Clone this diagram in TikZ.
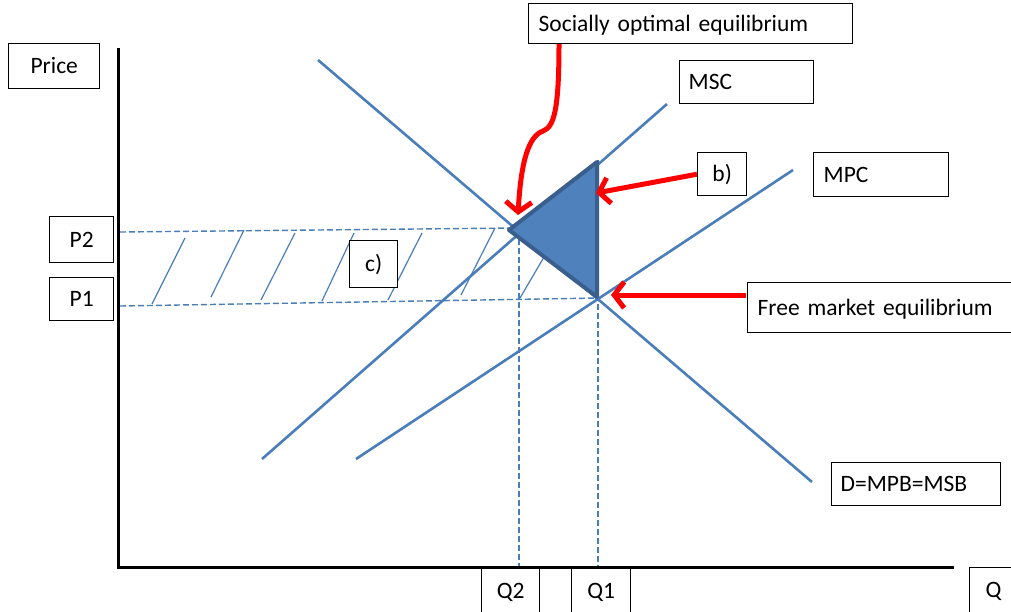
\documentclass[tikz,border=0pt]{standalone}
\usepackage{fontspec}
\setmainfont{Carlito}
\usetikzlibrary{arrows.meta}
\definecolor{lblue}{HTML}{4A7EBB}
\definecolor{tfill}{HTML}{4F81BD}
\definecolor{tedge}{HTML}{3B5F8C}
\begin{document}
\begin{tikzpicture}[x=1pt,y=-1pt,
  lab/.style={draw=black, line width=1.4pt, anchor=north west, inner ysep=0pt,
    font=\fontsize{23.5}{26}\selectfont, text height=17pt, text depth=2pt},
  curve/.style={lblue, line width=2.6pt},
  guide/.style={lblue, line width=1.4pt, dash pattern=on 6pt off 3pt},
  hatch/.style={lblue, line width=1.2pt},
  redarrow/.style={red, line width=5pt, -{Straight Barb[length=10pt,width=26pt]}},
  axis/.style={black, line width=3pt}]
\clip (0,0) rectangle (1011,611);
\fill[white] (0,0) rectangle (1011,611);

% key points
\coordinate (O) at (118,567);
\coordinate (ytop) at (118,48);
\coordinate (xend) at (954,567);
\coordinate (dA) at (318,60);
\coordinate (dB) at (812,482);
\coordinate (mscA) at (262,459);
\coordinate (mscB) at (667,104);
\coordinate (mpcA) at (356,459);
\coordinate (mpcB) at (793,170);
\coordinate (soe) at (509,230);
\coordinate (tr) at (597,162);
\coordinate (fme) at (597,297);

% guides
\draw[guide] (120,232) -- (515,228);
\draw[guide] (120,306) -- (600,298);
\draw[guide] (519,230) -- (519,567);
\draw[guide] (598,160) -- (598,567);

% hatching
\draw[hatch] (152,304) -- (185,238);
\draw[hatch] (211,297) -- (244,230);
\draw[hatch] (261,300) -- (295,233);
\draw[hatch] (322,301) -- (354,233);
\draw[hatch] (388,300) -- (422,233);
\draw[hatch] (461,295) -- (495,228);
\draw[hatch] (520,298) -- (544,257);

% curves
\draw[curve] (dA) -- (dB);
\draw[curve] (mscA) -- (mscB);
\draw[curve] (mpcA) -- (mpcB);

% triangle
\draw[fill=tfill, draw=tedge, line width=4pt, line join=round] (soe) -- (tr) -- (fme) -- cycle;

% axes
\draw[axis] (ytop) -- (O) -- (xend);

% labels
\node[lab, minimum width=91pt, minimum height=45pt, inner xsep=6pt, text width=79pt, align=center] (price) at (8,43) {Price};
\node[lab, minimum width=64pt, minimum height=46pt, inner xsep=6pt, text width=52pt, align=center] (p2) at (49,216) {P2};
\node[lab, minimum width=64pt, minimum height=43pt, inner xsep=6pt, text width=52pt, align=center] (p1) at (49,277) {P1};
\node[lab, fill=white, minimum width=48pt, minimum height=47pt, inner xsep=4pt, text width=40pt, align=center] (c) at (349,240) {c)};
\node[lab, fill=white, minimum width=324pt, minimum height=40pt, inner xsep=10pt, text width=304pt, align=left] (sobox) at (528,3) {Socially optimal equilibrium};
\node[lab, minimum width=134pt, minimum height=43pt, inner xsep=9pt, text width=116pt, align=left] (msc) at (679,60) {MSC};
\node[lab, minimum width=49pt, minimum height=43pt, inner xsep=4pt, text width=41pt, align=center] (b) at (697,152) {b)};
\node[lab, minimum width=135pt, minimum height=44pt, inner xsep=10pt, text width=115pt, align=left] (mpc) at (813,152) {MPC};
\node[lab, minimum width=273pt, minimum height=50pt, inner xsep=10pt, text width=253pt, align=left] (fmbox) at (747,282) {Free market equilibrium};
\node[lab, minimum width=169pt, minimum height=43pt, inner xsep=9pt, text width=151pt, align=left] (d) at (831,462) {D=MPB=MSB};
\node[lab, minimum width=58pt, minimum height=44pt, inner xsep=4pt, text width=50pt, align=center] (q2) at (481,568) {Q2};
\node[lab, minimum width=59pt, minimum height=44pt, inner xsep=4pt, text width=51pt, align=center] (q1) at (571,568) {Q1};
\node[lab, minimum width=71pt, minimum height=45pt, inner xsep=16pt, text width=39pt, align=left] (q) at (969,567) {Q};

% red arrows
\coordinate (soStart) at (559,44);
\coordinate (soTip) at (518,215);
\coordinate (fmStart) at (746,295);
\coordinate (fmTip) at (611,295);
\coordinate (bTip) at (596,193);
\draw[redarrow] (soStart) .. controls (559,110) and (554,127) .. (543,131)
  .. controls (529,136) and (521,160) .. (soTip);
\draw[redarrow] (b.west) -- (bTip);
\draw[redarrow] (fmStart) -- (fmTip);
\end{tikzpicture}
\end{document}
